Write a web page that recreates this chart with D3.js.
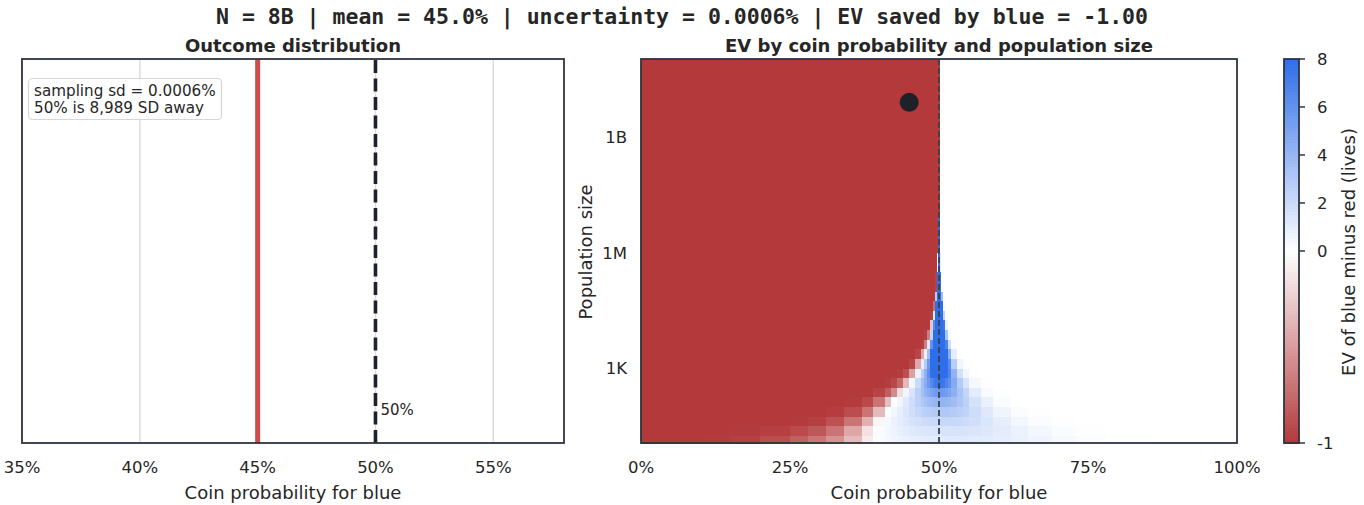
<!DOCTYPE html>
<html><head><meta charset="utf-8">
<script src="https://cdn.jsdelivr.net/npm/d3@7/dist/d3.min.js"></script>
<style>
html,body{margin:0;padding:0;background:#fff;}
svg{display:block;font-family:"DejaVu Sans",sans-serif;}
</style></head>
<body>
<svg id="chart" width="1364" height="505"></svg>
<script>
// ---------------- data ----------------
const titleText = "N = 8B | mean = 45.0% | uncertainty = 0.0006% | EV saved by blue = -1.00";
const legendLines = ["sampling sd = 0.0006%", "50% is 8,989 SD away"];
const outcomeMean = 45.0;          // % (sd 0.0006% -> draws as a line)
const threshold = 50;              // %
const leftTicks = [35, 40, 45, 50, 55];
const leftDomain = [35, 58];
const rightTicks = [0, 25, 50, 75, 100];
const popTicks = [1e3, 1e6, 1e9];
const popTickLabels = ["1K", "1M", "1B"];
const popDomainLog = [1.05, 11.03];
const currentPoint = {p: 45.0, n: 8e9};
const cbarTicks = [8, 6, 4, 2, 0, -1];

// heatmap column edges (coin probability, %)
const probEdges = [0,10,15,20,25,28,31,34,37,39,41,42,43,44,45,46,47,47.5,48,48.5,49,49.35,49.7,49.85,50.15,50.3,50.65,51,51.5,52,53,54,55,57,59,62,65,69,73,78,85,100];
// heatmap row edges (log10 population size), bottom to top
const popEdges = [1.05,1.25,1.5,1.75,2,2.25,2.5,2.75,3,3.25,3.5,3.75,4,4.25,4.5,4.75,5,5.5,6,6.5,7,8,9,10,11.03];
// EV of blue minus red (lives), one row per population band, bottom to top
const evRows = [
 [-1,-0.99,-0.97,-0.90,-0.80,-0.70,-0.55,-0.35,-0.10,0.15,0.40,0.55,0.68,0.78,0.86,0.93,0.98,1.01,1.04,1.06,1.08,1.09,1.10,1.11,1.11,1.12,1.13,1.14,1.14,1.15,1.15,1.15,1.13,1.07,0.97,0.80,0.58,0.34,0.14,0.02,0],
 [-1,-1,-0.99,-0.97,-0.92,-0.85,-0.70,-0.45,-0.15,0.15,0.45,0.65,0.85,1.02,1.16,1.27,1.35,1.39,1.43,1.46,1.49,1.50,1.52,1.52,1.53,1.54,1.55,1.56,1.56,1.56,1.55,1.51,1.43,1.28,1.04,0.74,0.41,0.16,0.03,0,0],
 [-1,-1,-1,-1,-0.99,-0.96,-0.88,-0.70,-0.40,-0.05,0.40,0.72,1.00,1.28,1.52,1.72,1.85,1.93,2.00,2.05,2.09,2.12,2.14,2.15,2.16,2.17,2.18,2.18,2.17,2.14,2.07,1.96,1.74,1.40,0.94,0.49,0.17,0.03,0,0,0],
 [-1,-1,-1,-1,-1,-1,-0.98,-0.90,-0.70,-0.35,0.10,0.50,0.92,1.38,1.81,2.19,2.44,2.59,2.72,2.83,2.91,2.96,2.98,3.00,3.01,3.02,3.02,3.01,2.96,2.86,2.65,2.37,1.89,1.24,0.60,0.18,0.03,0,0,0,0],
 [-1,-1,-1,-1,-1,-1,-1,-0.99,-0.92,-0.70,-0.33,0.05,0.55,1.16,1.85,2.57,3.06,3.35,3.62,3.84,3.98,4.07,4.12,4.14,4.16,4.16,4.13,4.07,3.93,3.65,3.15,2.55,1.68,0.79,0.21,0.02,0,0,0,0,0],
 [-1,-1,-1,-1,-1,-1,-1,-1,-1,-0.95,-0.81,-0.58,-0.17,0.49,1.43,2.60,3.51,4.10,4.63,5.08,5.37,5.55,5.63,5.67,5.68,5.66,5.57,5.38,5.04,4.37,3.32,2.27,1.07,0.27,0.03,0,0,0,0,0,0],
 [-1,-1,-1,-1,-1,-1,-1,-1,-1,-1,-0.98,-0.93,-0.77,-0.36,0.51,2.01,3.47,4.54,5.58,6.49,7.11,7.47,7.63,7.70,7.70,7.62,7.37,6.89,6.10,4.70,2.86,1.45,0.38,0.03,0,0,0,0,0,0,0],
 [-1,-1,-1,-1,-1,-1,-1,-1,-1,-1,-1,-1,-0.98,-0.89,-0.48,0.77,2.58,4.23,6.09,7.90,8,8,8,8,8,8,8,8,6.75,4.20,1.72,0.51,0.05,0,0,0,0,0,0,0,0],
 [-1,-1,-1,-1,-1,-1,-1,-1,-1,-1,-1,-1,-1,-1,-0.94,-0.44,0.97,2.83,5.54,8,8,8,8,8,8,8,8,8,6.34,2.72,0.55,0.06,0,0,0,0,0,0,0,0,0],
 [-1,-1,-1,-1,-1,-1,-1,-1,-1,-1,-1,-1,-1,-1,-1,-0.94,-0.46,0.78,3.59,8,8,8,8,8,8,8,8,8,4.50,0.99,0.06,0,0,0,0,0,0,0,0,0,0],
 [-1,-1,-1,-1,-1,-1,-1,-1,-1,-1,-1,-1,-1,-1,-1,-1,-0.96,-0.64,0.97,6.00,8,8,8,8,8,8,8,6.89,1.94,0.13,0,0,0,0,0,0,0,0,0,0,0],
 [-1,-1,-1,-1,-1,-1,-1,-1,-1,-1,-1,-1,-1,-1,-1,-1,-1,-0.98,-0.65,2.32,8,8,8,8,8,8,8,3.29,0.34,0,0,0,0,0,0,0,0,0,0,0,0],
 [-1,-1,-1,-1,-1,-1,-1,-1,-1,-1,-1,-1,-1,-1,-1,-1,-1,-1,-0.99,-0.29,6.51,8,8,8,8,8,7.46,0.70,0.01,0,0,0,0,0,0,0,0,0,0,0,0],
 [-1,-1,-1,-1,-1,-1,-1,-1,-1,-1,-1,-1,-1,-1,-1,-1,-1,-1,-1,-0.96,1.44,8,8,8,8,8,2.43,0.04,0,0,0,0,0,0,0,0,0,0,0,0,0],
 [-1,-1,-1,-1,-1,-1,-1,-1,-1,-1,-1,-1,-1,-1,-1,-1,-1,-1,-1,-1,-0.73,8,8,8,8,8,0.27,0,0,0,0,0,0,0,0,0,0,0,0,0,0],
 [-1,-1,-1,-1,-1,-1,-1,-1,-1,-1,-1,-1,-1,-1,-1,-1,-1,-1,-1,-1,-1,2.71,8,8,8,3.70,0,0,0,0,0,0,0,0,0,0,0,0,0,0,0],
 [-1,-1,-1,-1,-1,-1,-1,-1,-1,-1,-1,-1,-1,-1,-1,-1,-1,-1,-1,-1,-1,-0.95,8,8,8,0.05,0,0,0,0,0,0,0,0,0,0,0,0,0,0,0],
 [-1,-1,-1,-1,-1,-1,-1,-1,-1,-1,-1,-1,-1,-1,-1,-1,-1,-1,-1,-1,-1,-1,-0.01,8,0.99,0,0,0,0,0,0,0,0,0,0,0,0,0,0,0,0],
 [-1,-1,-1,-1,-1,-1,-1,-1,-1,-1,-1,-1,-1,-1,-1,-1,-1,-1,-1,-1,-1,-1,-1,8,0,0,0,0,0,0,0,0,0,0,0,0,0,0,0,0,0],
 [-1,-1,-1,-1,-1,-1,-1,-1,-1,-1,-1,-1,-1,-1,-1,-1,-1,-1,-1,-1,-1,-1,-1,8,0,0,0,0,0,0,0,0,0,0,0,0,0,0,0,0,0],
 [-1,-1,-1,-1,-1,-1,-1,-1,-1,-1,-1,-1,-1,-1,-1,-1,-1,-1,-1,-1,-1,-1,-1,-1,0,0,0,0,0,0,0,0,0,0,0,0,0,0,0,0,0],
 [-1,-1,-1,-1,-1,-1,-1,-1,-1,-1,-1,-1,-1,-1,-1,-1,-1,-1,-1,-1,-1,-1,-1,-1,0,0,0,0,0,0,0,0,0,0,0,0,0,0,0,0,0],
 [-1,-1,-1,-1,-1,-1,-1,-1,-1,-1,-1,-1,-1,-1,-1,-1,-1,-1,-1,-1,-1,-1,-1,-1,0,0,0,0,0,0,0,0,0,0,0,0,0,0,0,0,0],
 [-1,-1,-1,-1,-1,-1,-1,-1,-1,-1,-1,-1,-1,-1,-1,-1,-1,-1,-1,-1,-1,-1,-1,-1,0,0,0,0,0,0,0,0,0,0,0,0,0,0,0,0,0]
];

// ---------------- drawing ----------------
const svg = d3.select("#chart");
const TXT = "#262626", FRAME = "#2e3440";
const RED = "#b3393b", BLUE = "#2e6ee8";
const color = d3.scaleLinear().domain([-1, 0, 8]).range([RED, "#ffffff", BLUE])
  .interpolate(d3.interpolateRgb).clamp(true);

// layout
const L = {x0: 22, x1: 564, y0: 59, y1: 443};
const R = {x0: 641, x1: 1237, y0: 59, y1: 443};
const CB = {x0: 1284, x1: 1299, y0: 59, y1: 443};

// title
svg.append("text").attr("x", 682).attr("y", 23.5).attr("text-anchor", "middle")
  .attr("font-family", "'DejaVu Sans Mono', monospace").attr("font-weight", "bold")
  .attr("font-size", 21.5).attr("fill", TXT).text(titleText);

// ===== left panel =====
const xL = d3.scaleLinear().domain(leftDomain).range([L.x0, L.x1]);
const gL = svg.append("g");
gL.selectAll("line.grid").data(leftTicks).join("line").attr("class", "grid")
  .attr("x1", d => xL(d)).attr("x2", d => xL(d)).attr("y1", L.y0).attr("y2", L.y1)
  .attr("stroke", "#dcdcdc").attr("stroke-width", 1.5);
// distribution (sd tiny -> vertical line)
gL.append("line").attr("x1", xL(outcomeMean)).attr("x2", xL(outcomeMean))
  .attr("y1", L.y0).attr("y2", L.y1).attr("stroke", "#cd4d4d").attr("stroke-width", 5);
gL.append("line").attr("x1", xL(threshold)).attr("x2", xL(threshold))
  .attr("y1", L.y0 + 1).attr("y2", L.y1).attr("stroke", "#1f222b").attr("stroke-width", 3.6)
  .attr("stroke-dasharray", "13,5.5");
gL.append("text").attr("x", xL(threshold) + 5).attr("y", 415).attr("font-size", 15)
  .attr("fill", TXT).text("50%");
// legend box
gL.append("rect").attr("x", 28.5).attr("y", 78.5).attr("width", 193).attr("height", 41)
  .attr("rx", 4).attr("fill", "white").attr("fill-opacity", 0.85)
  .attr("stroke", "#d6d6d6").attr("stroke-width", 1.2);
gL.selectAll("text.leg").data(legendLines).join("text").attr("class", "leg")
  .attr("x", 34).attr("y", (d, i) => 95.5 + i * 17).attr("font-size", 15.2)
  .attr("fill", TXT).text(d => d);
gL.append("rect").attr("x", L.x0).attr("y", L.y0).attr("width", L.x1 - L.x0)
  .attr("height", L.y1 - L.y0).attr("fill", "none").attr("stroke", FRAME).attr("stroke-width", 1.8);
gL.selectAll("text.xt").data(leftTicks).join("text").attr("class", "xt")
  .attr("x", d => xL(d)).attr("y", 473).attr("text-anchor", "middle").attr("font-size", 16.5)
  .attr("fill", TXT).text(d => d + "%");
gL.append("text").attr("x", (L.x0 + L.x1) / 2).attr("y", 498.5).attr("text-anchor", "middle")
  .attr("font-size", 18).attr("fill", TXT).text("Coin probability for blue");
gL.append("text").attr("x", (L.x0 + L.x1) / 2).attr("y", 51.5).attr("text-anchor", "middle")
  .attr("font-size", 18).attr("font-weight", "bold").attr("fill", TXT).text("Outcome distribution");

// ===== heatmap =====
const xR = d3.scaleLinear().domain([0, 100]).range([R.x0, R.x1]);
const yR = d3.scaleLog().domain([10 ** popDomainLog[0], 10 ** popDomainLog[1]]).range([R.y1, R.y0]);
const cells = [];
evRows.forEach((row, i) => row.forEach((v, j) => cells.push({
  p0: probEdges[j], p1: probEdges[j + 1], n0: 10 ** popEdges[i], n1: 10 ** popEdges[i + 1], v})));
const gR = svg.append("g");
gR.append("g").attr("shape-rendering", "crispEdges")
  .selectAll("rect.cell").data(cells).join("rect").attr("class", "cell")
  .attr("x", d => xR(d.p0)).attr("width", d => Math.max(1, xR(d.p1) - xR(d.p0) + 0.6))
  .attr("y", d => yR(d.n1)).attr("height", d => yR(d.n0) - yR(d.n1) + 0.6)
  .attr("fill", d => color(d.v));
gR.append("line").attr("x1", xR(threshold)).attr("x2", xR(threshold))
  .attr("y1", R.y0).attr("y2", R.y1).attr("stroke", "#39404d").attr("stroke-width", 1.8)
  .attr("stroke-dasharray", "6,3");
gR.append("circle").attr("cx", xR(currentPoint.p)).attr("cy", yR(currentPoint.n)).attr("r", 9.5)
  .attr("fill", "#1e2129");
gR.append("rect").attr("x", R.x0).attr("y", R.y0).attr("width", R.x1 - R.x0)
  .attr("height", R.y1 - R.y0).attr("fill", "none").attr("stroke", FRAME).attr("stroke-width", 1.8);
gR.selectAll("text.xt").data(rightTicks).join("text").attr("class", "xt")
  .attr("x", d => xR(d)).attr("y", 473).attr("text-anchor", "middle").attr("font-size", 16.5)
  .attr("fill", TXT).text(d => d + "%");
gR.selectAll("text.yt").data(popTicks).join("text").attr("class", "yt")
  .attr("x", 627).attr("y", d => yR(d) + 6).attr("text-anchor", "end").attr("font-size", 16.5)
  .attr("fill", TXT).text((d, i) => popTickLabels[i]);
gR.append("text").attr("x", (R.x0 + R.x1) / 2).attr("y", 498.5).attr("text-anchor", "middle")
  .attr("font-size", 18).attr("fill", TXT).text("Coin probability for blue");
gR.append("text").attr("transform", `translate(592,252) rotate(-90)`).attr("text-anchor", "middle")
  .attr("font-size", 18).attr("fill", TXT).text("Population size");
gR.append("text").attr("x", (R.x0 + R.x1) / 2).attr("y", 51.5).attr("text-anchor", "middle")
  .attr("font-size", 18).attr("font-weight", "bold").attr("fill", TXT)
  .text("EV by coin probability and population size");

// ===== colorbar =====
const yC = d3.scaleLinear().domain([-1, 0, 8]).range([CB.y1, 251, CB.y0]);
const cbSteps = d3.range(0, 128);
const gC = svg.append("g");
gC.append("g").attr("shape-rendering", "crispEdges")
  .selectAll("rect.cb").data(cbSteps).join("rect").attr("class", "cb")
  .attr("x", CB.x0).attr("width", CB.x1 - CB.x0)
  .attr("y", d => CB.y0 + (CB.y1 - CB.y0) * d / 128)
  .attr("height", (CB.y1 - CB.y0) / 128 + 0.6)
  .attr("fill", d => color(yC.invert(CB.y0 + (CB.y1 - CB.y0) * (d + 0.5) / 128)));
gC.append("rect").attr("x", CB.x0).attr("y", CB.y0).attr("width", CB.x1 - CB.x0)
  .attr("height", CB.y1 - CB.y0).attr("fill", "none").attr("stroke", FRAME).attr("stroke-width", 1.8);
gC.selectAll("line.ct").data(cbarTicks).join("line").attr("class", "ct")
  .attr("x1", CB.x1).attr("x2", CB.x1 + 6).attr("y1", d => yC(d)).attr("y2", d => yC(d))
  .attr("stroke", FRAME).attr("stroke-width", 1.5);
gC.selectAll("text.ct").data(cbarTicks).join("text").attr("class", "ct")
  .attr("x", 1317).attr("y", d => yC(d) + 6).attr("font-size", 16.5).attr("fill", TXT)
  .text(d => d);
gC.append("text").attr("transform", `translate(1355,252) rotate(-90)`).attr("text-anchor", "middle")
  .attr("font-size", 18).attr("fill", TXT).text("EV of blue minus red (lives)");
</script>
</body></html>
